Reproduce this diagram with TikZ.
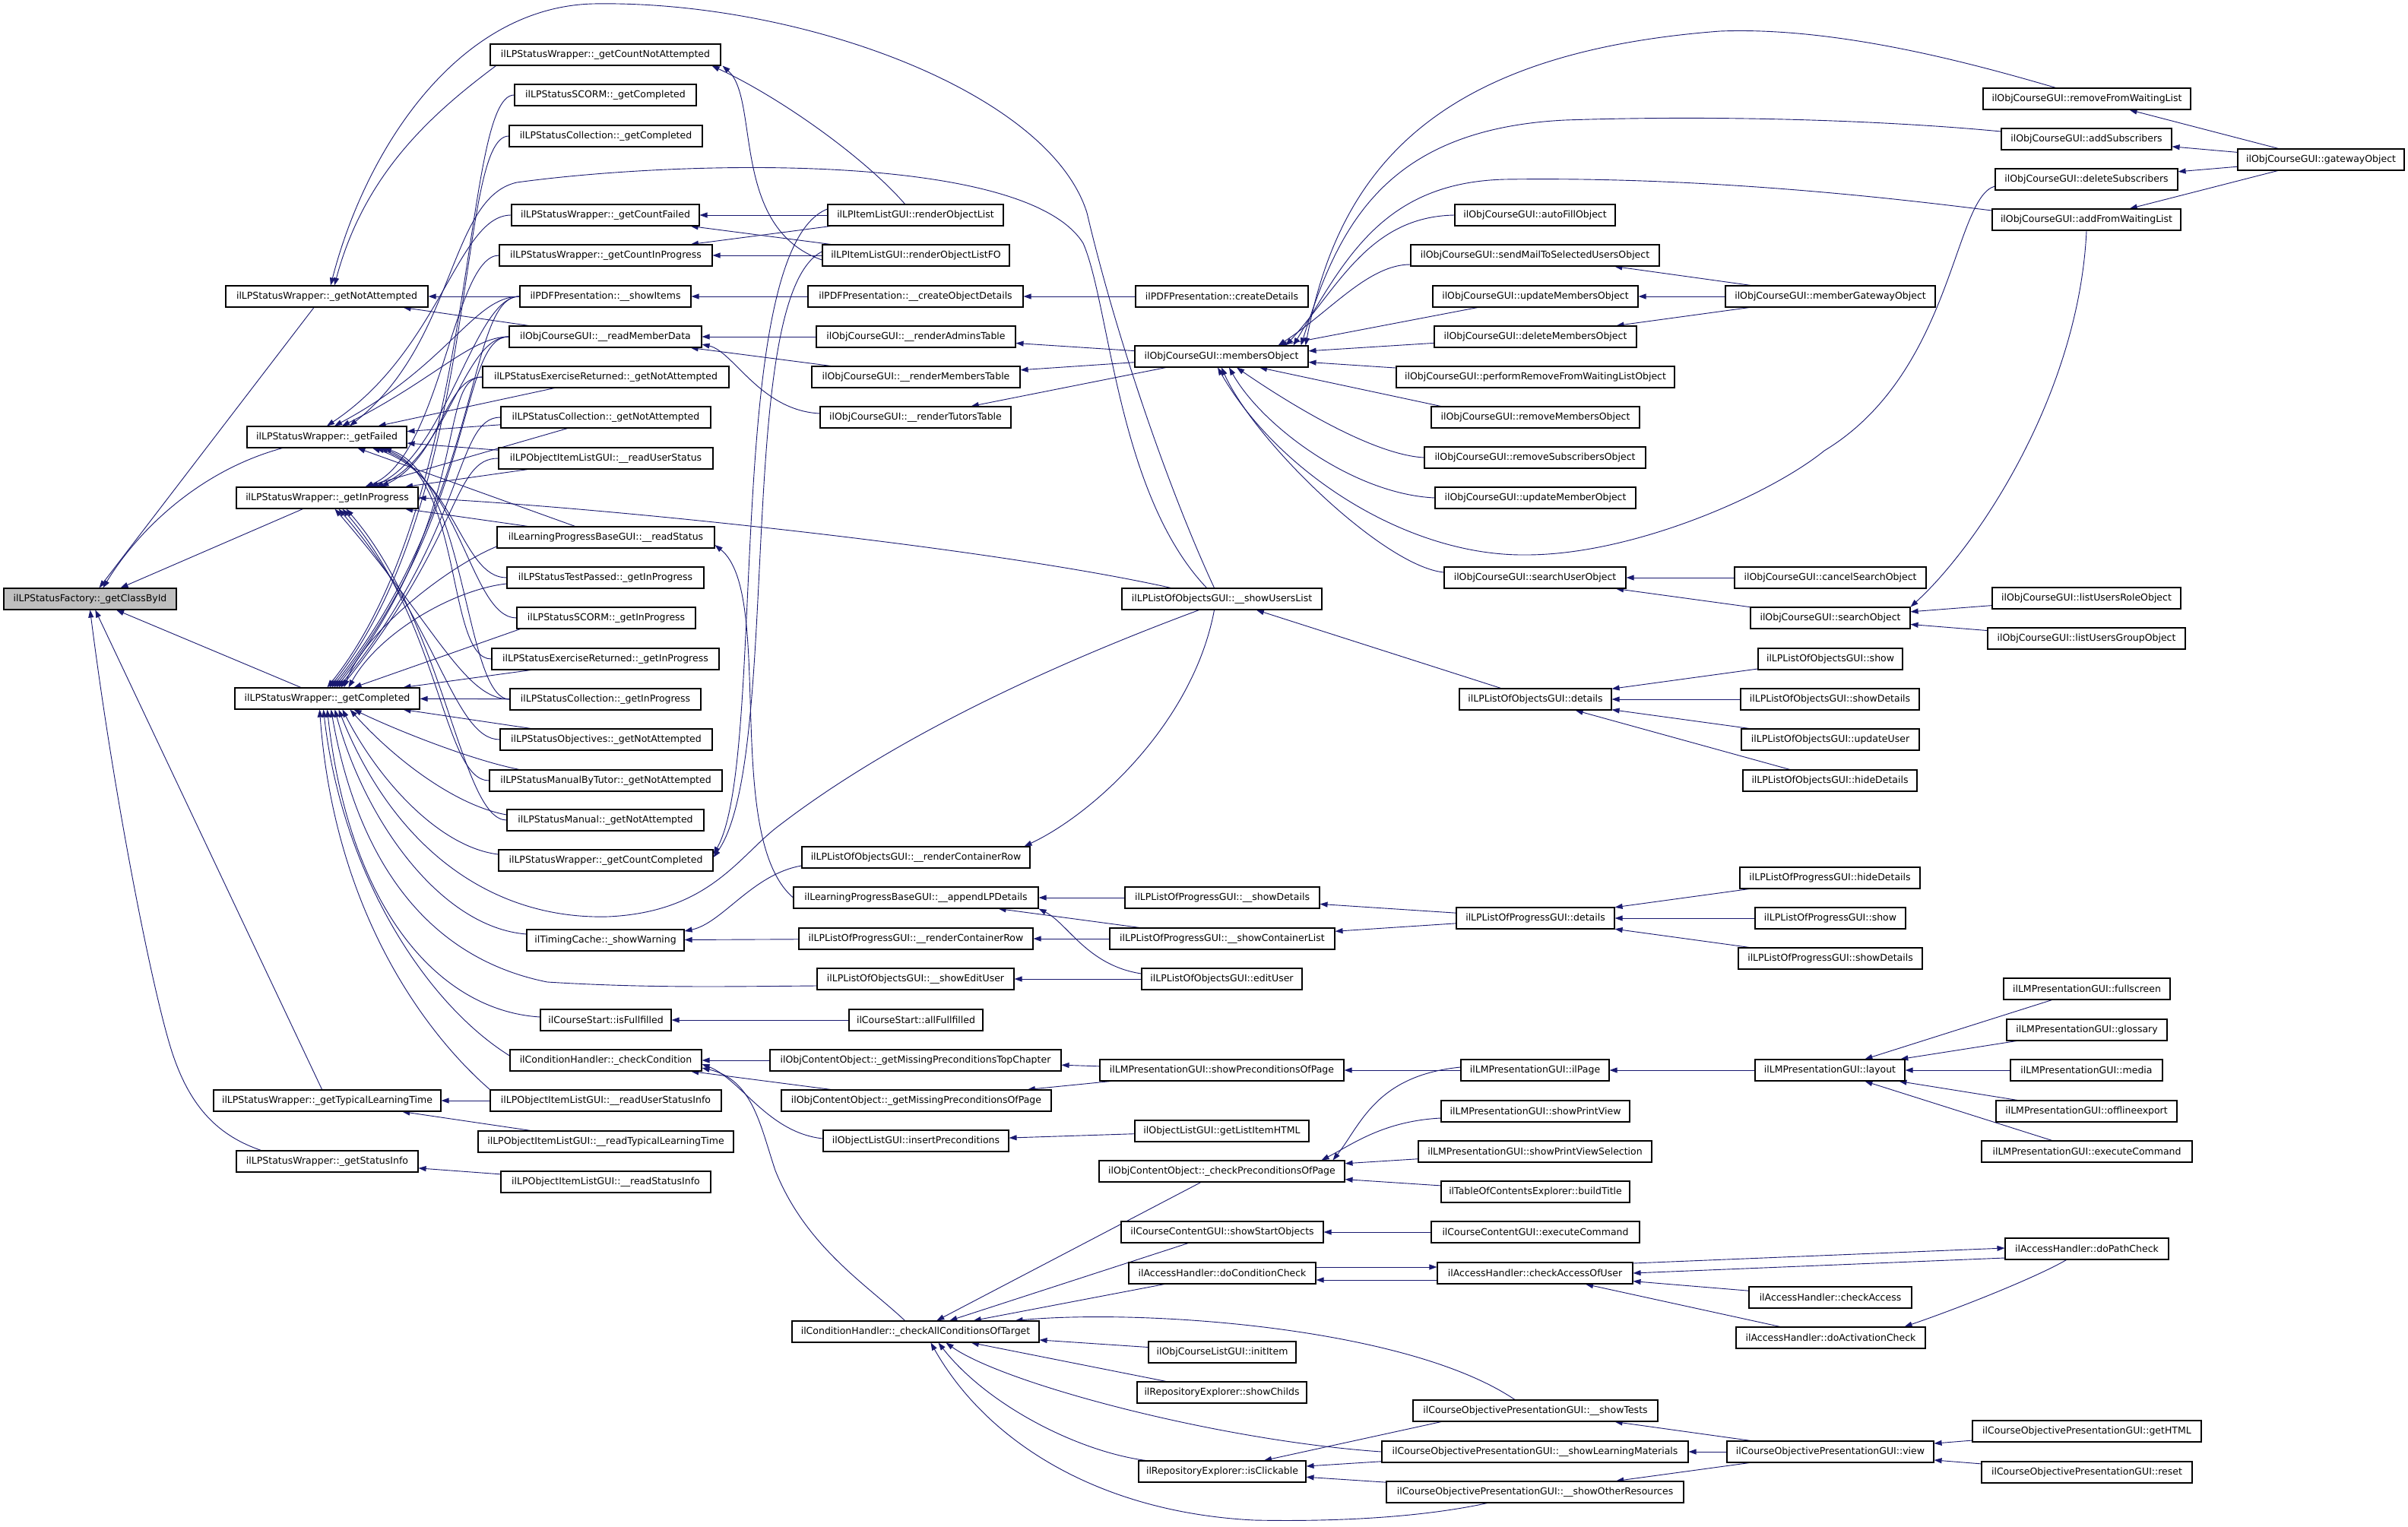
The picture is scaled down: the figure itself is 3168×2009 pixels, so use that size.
\documentclass[tikz,border=0pt]{standalone}
\usepackage{fontspec}
\setmainfont{DejaVu Sans}
\usetikzlibrary{arrows.meta}
\definecolor{edgeblue}{RGB}{25,25,112}
\definecolor{rootgray}{RGB}{191,191,191}
\pgfdeclarelayer{bg}\pgfdeclarelayer{edges}\pgfsetlayers{bg,edges,main}
\tikzset{
 box/.style={draw=black, line width=1.1pt, fill=white, inner sep=0pt, minimum height=28pt, font=\fontsize{12.5}{14}\selectfont, text=black},
 cl/.style={draw=edgeblue, line width=0.9pt, {Triangle[length=10pt,width=7pt]}-},
}
\newcommand\nd[6][]{\node[box,#1,minimum width={#4-#3}] (#2) at ({(#3+#4)/2},#5) {#6};}
\begin{document}
\begin{tikzpicture}[x=1pt,y=-1pt]
\useasboundingbox (0,0) rectangle (3168,2009);
\begin{pgfonlayer}{bg}\fill[white] (0,0) rectangle (3168,2009);\end{pgfonlayer}
% root and column B
\nd[fill=rootgray]{R}{5}{232}{788}{ilLPStatusFactory::\_getClassById}
\nd{gNA}{297}{563}{390}{ilLPStatusWrapper::\_getNotAttempted}
\nd{gF}{325}{535}{575}{ilLPStatusWrapper::\_getFailed}
\nd{gIP}{311}{550}{655}{ilLPStatusWrapper::\_getInProgress}
\nd{gC}{309}{552}{919}{ilLPStatusWrapper::\_getCompleted}
\nd{gTLT}{281}{580}{1448}{ilLPStatusWrapper::\_getTypicalLearningTime}
\nd{gSI}{311}{550}{1528}{ilLPStatusWrapper::\_getStatusInfo}
% column C
\nd{cNA}{645}{948}{72}{ilLPStatusWrapper::\_getCountNotAttempted}
\nd{scC}{677}{916}{125}{ilLPStatusSCORM::\_getCompleted}
\nd{colC}{670}{924}{179}{ilLPStatusCollection::\_getCompleted}
\nd{cF}{673}{920}{283}{ilLPStatusWrapper::\_getCountFailed}
\nd{cIP}{657}{937}{336}{ilLPStatusWrapper::\_getCountInProgress}
\nd{pdfSI}{684}{909}{390}{ilPDFPresentation::\_\_showItems}
\nd{rMD}{670}{923}{443}{ilObjCourseGUI::\_\_readMemberData}
\nd{erNA}{635}{959}{496}{ilLPStatusExerciseReturned::\_getNotAttempted}
\nd{colNA}{659}{935}{549}{ilLPStatusCollection::\_getNotAttempted}
\nd{rUS}{656}{938}{603}{ilLPObjectItemListGUI::\_\_readUserStatus}
\nd{lpRS}{654}{940}{707}{ilLearningProgressBaseGUI::\_\_readStatus}
\nd{tpIP}{667}{926}{760}{ilLPStatusTestPassed::\_getInProgress}
\nd{scIP}{680}{915}{813}{ilLPStatusSCORM::\_getInProgress}
\nd{erIP}{647}{946}{867}{ilLPStatusExerciseReturned::\_getInProgress}
\nd{colIP}{671}{922}{920}{ilLPStatusCollection::\_getInProgress}
\nd{objNA}{658}{937}{973}{ilLPStatusObjectives::\_getNotAttempted}
\nd{mbtNA}{644}{950}{1027}{ilLPStatusManualByTutor::\_getNotAttempted}
\nd{manNA}{667}{926}{1079}{ilLPStatusManual::\_getNotAttempted}
\nd{cC}{656}{938}{1132}{ilLPStatusWrapper::\_getCountCompleted}
\nd{tcSW}{693}{900}{1237}{ilTimingCache::\_showWarning}
\nd{csIF}{711}{883}{1342}{ilCourseStart::isFullfilled}
\nd{chCC}{671}{923}{1395}{ilConditionHandler::\_checkCondition}
\nd{rUSI}{645}{949}{1448}{ilLPObjectItemListGUI::\_\_readUserStatusInfo}
\nd{rTLT}{629}{965}{1502}{ilLPObjectItemListGUI::\_\_readTypicalLearningTime}
\nd{rSI}{659}{935}{1555}{ilLPObjectItemListGUI::\_\_readStatusInfo}
% column D
\nd{rOL}{1089}{1320}{283}{ilLPItemListGUI::renderObjectList}
\nd{rOLFO}{1082}{1328}{336}{ilLPItemListGUI::renderObjectListFO}
\nd{pdfCOD}{1063}{1346}{390}{ilPDFPresentation::\_\_createObjectDetails}
\nd{rAT}{1074}{1336}{443}{ilObjCourseGUI::\_\_renderAdminsTable}
\nd{rMT}{1068}{1342}{496}{ilObjCourseGUI::\_\_renderMembersTable}
\nd{rTT}{1079}{1330}{549}{ilObjCourseGUI::\_\_renderTutorsTable}
\nd{oRCR}{1055}{1355}{1128}{ilLPListOfObjectsGUI::\_\_renderContainerRow}
\nd{aLPD}{1044}{1366}{1181}{ilLearningProgressBaseGUI::\_\_appendLPDetails}
\nd{pRCR}{1051}{1359}{1235}{ilLPListOfProgressGUI::\_\_renderContainerRow}
\nd{sEU}{1075}{1334}{1288}{ilLPListOfObjectsGUI::\_\_showEditUser}
\nd{csAF}{1117}{1293}{1342}{ilCourseStart::allFullfilled}
\nd{mpTC}{1013}{1396}{1395}{ilObjContentObject::\_getMissingPreconditionsTopChapter}
\nd{mpOP}{1028}{1383}{1448}{ilObjContentObject::\_getMissingPreconditionsOfPage}
\nd{oIP}{1083}{1327}{1501}{ilObjectListGUI::insertPreconditions}
\nd{chAC}{1042}{1367}{1752}{ilConditionHandler::\_checkAllConditionsOfTarget}
% column E
\nd{pdfCD}{1494}{1721}{390}{ilPDFPresentation::createDetails}
\nd{mO}{1493}{1721}{469}{ilObjCourseGUI::membersObject}
\nd{sUL}{1476}{1739}{788}{ilLPListOfObjectsGUI::\_\_showUsersList}
\nd{pSD}{1480}{1736}{1181}{ilLPListOfProgressGUI::\_\_showDetails}
\nd{pSCL}{1460}{1756}{1235}{ilLPListOfProgressGUI::\_\_showContainerList}
\nd{oEU}{1502}{1713}{1288}{ilLPListOfObjectsGUI::editUser}
\nd{lmSPP}{1447}{1768}{1408}{ilLMPresentationGUI::showPreconditionsOfPage}
\nd{oLIH}{1493}{1722}{1488}{ilObjectListGUI::getListItemHTML}
\nd{ccPP}{1446}{1769}{1541}{ilObjContentObject::\_checkPreconditionsOfPage}
\nd{ccSSO}{1475}{1741}{1621}{ilCourseContentGUI::showStartObjects}
\nd{ahDCC}{1485}{1731}{1675}{ilAccessHandler::doConditionCheck}
\nd{ocIT}{1511}{1705}{1779}{ilObjCourseListGUI::initItem}
\nd{reSC}{1496}{1719}{1832}{ilRepositoryExplorer::showChilds}
\nd{reIC}{1498}{1718}{1936}{ilRepositoryExplorer::isClickable}
% column F
\nd{aFO}{1914}{2125}{283}{ilObjCourseGUI::autoFillObject}
\nd{sMail}{1856}{2183}{336}{ilObjCourseGUI::sendMailToSelectedUsersObject}
\nd{uMsO}{1885}{2155}{390}{ilObjCourseGUI::updateMembersObject}
\nd{dMsO}{1887}{2153}{443}{ilObjCourseGUI::deleteMembersObject}
\nd{pRWL}{1837}{2203}{496}{ilObjCourseGUI::performRemoveFromWaitingListObject}
\nd{rMsO}{1883}{2157}{549}{ilObjCourseGUI::removeMembersObject}
\nd{rSO}{1874}{2165}{602}{ilObjCourseGUI::removeSubscribersObject}
\nd{uMO}{1888}{2152}{655}{ilObjCourseGUI::updateMemberObject}
\nd{sUO}{1900}{2139}{760}{ilObjCourseGUI::searchUserObject}
\nd{oDet}{1920}{2120}{920}{ilLPListOfObjectsGUI::details}
\nd{pDet}{1916}{2124}{1208}{ilLPListOfProgressGUI::details}
\nd{lmIP}{1922}{2117}{1408}{ilLMPresentationGUI::ilPage}
\nd{lmSPV}{1896}{2144}{1462}{ilLMPresentationGUI::showPrintView}
\nd{lmSPVS}{1866}{2173}{1515}{ilLMPresentationGUI::showPrintViewSelection}
\nd{tocBT}{1896}{2144}{1568}{ilTableOfContentsExplorer::buildTitle}
\nd{ccEC}{1883}{2157}{1621}{ilCourseContentGUI::executeCommand}
\nd{ahCAU}{1891}{2148}{1675}{ilAccessHandler::checkAccessOfUser}
\nd{copST}{1859}{2181}{1856}{ilCourseObjectivePresentationGUI::\_\_showTests}
\nd{copSLM}{1818}{2221}{1910}{ilCourseObjectivePresentationGUI::\_\_showLearningMaterials}
\nd{copSOR}{1824}{2215}{1963}{ilCourseObjectivePresentationGUI::\_\_showOtherResources}
% column G
\nd{mGO}{2270}{2546}{390}{ilObjCourseGUI::memberGatewayObject}
\nd{cSO}{2282}{2534}{760}{ilObjCourseGUI::cancelSearchObject}
\nd{sO}{2303}{2513}{813}{ilObjCourseGUI::searchObject}
\nd{oShow}{2313}{2503}{867}{ilLPListOfObjectsGUI::show}
\nd{oSD}{2290}{2525}{920}{ilLPListOfObjectsGUI::showDetails}
\nd{oUU}{2291}{2525}{973}{ilLPListOfObjectsGUI::updateUser}
\nd{oHD}{2293}{2522}{1027}{ilLPListOfObjectsGUI::hideDetails}
\nd{pHD}{2289}{2526}{1155}{ilLPListOfProgressGUI::hideDetails}
\nd{pShow}{2309}{2507}{1208}{ilLPListOfProgressGUI::show}
\nd{pSDt}{2287}{2529}{1261}{ilLPListOfProgressGUI::showDetails}
\nd{lmL}{2309}{2506}{1408}{ilLMPresentationGUI::layout}
\nd{ahCA}{2301}{2515}{1707}{ilAccessHandler::checkAccess}
\nd{ahDAC}{2284}{2533}{1760}{ilAccessHandler::doActivationCheck}
\nd{copV}{2272}{2544}{1910}{ilCourseObjectivePresentationGUI::view}
% column H
\nd{rFWL}{2609}{2882}{130}{ilObjCourseGUI::removeFromWaitingList}
\nd{aS}{2633}{2857}{183}{ilObjCourseGUI::addSubscribers}
\nd{dS}{2625}{2865}{236}{ilObjCourseGUI::deleteSubscribers}
\nd{aFWL}{2621}{2869}{289}{ilObjCourseGUI::addFromWaitingList}
\nd{lURO}{2621}{2869}{787}{ilObjCourseGUI::listUsersRoleObject}
\nd{lUGO}{2615}{2875}{840}{ilObjCourseGUI::listUsersGroupObject}
\nd{lmFS}{2636}{2855}{1301}{ilLMPresentationGUI::fullscreen}
\nd{lmG}{2640}{2851}{1355}{ilLMPresentationGUI::glossary}
\nd{lmM}{2645}{2845}{1408}{ilLMPresentationGUI::media}
\nd{lmOE}{2626}{2864}{1462}{ilLMPresentationGUI::offlineexport}
\nd{lmEC}{2607}{2884}{1515}{ilLMPresentationGUI::executeCommand}
\nd{ahDPC}{2638}{2853}{1643}{ilAccessHandler::doPathCheck}
\nd{copGH}{2595}{2896}{1883}{ilCourseObjectivePresentationGUI::getHTML}
\nd{copR}{2607}{2884}{1937}{ilCourseObjectivePresentationGUI::reset}
% column I
\nd{gwO}{2944}{3163}{210}{ilObjCourseGUI::gatewayObject}

\begin{pgfonlayer}{edges}
% into root
\draw[cl] ([xshift=12]R.north) -- ([xshift=-17]gNA.south);
\draw[cl] ([xshift=17]R.north) .. controls (180,700) and (260,620) .. ([xshift=47]gF.south west);
\draw[cl] ([xshift=40]R.north) -- ([xshift=-32]gIP.south);
\draw[cl] (R) -- (gC);
\draw[cl] (R) -- (gTLT);
\draw[cl] (R.south) .. controls (150,1050) and (200,1300) .. (225,1380) .. controls (250,1460) and (290,1495) .. ([xshift=33]gSI.north west);
% into getNotAttempted
\draw[cl] ([xshift=10]gNA.north) .. controls +(40,-150) and +(-80,60) .. ([xshift=8]cNA.south west);
\draw[cl] ([xshift=5]gNA.north) .. controls (480,200) and (600,10) .. (780,5) .. controls (1050,0) and (1380,120) .. (1430,280) .. controls (1470,450) and (1540,650) .. ([xshift=-10]sUL.north);
\draw[cl] (gNA) -- (pdfSI);
\draw[cl] (gNA) -- (rMD);
% into getFailed
\draw[cl] ([xshift=0]gF.north) .. controls +(150,-100) and +(-70,0) .. (cF.west);
\draw[cl] ([xshift=10]gF.north) .. controls +(150,-80) and +(-60,0) .. (pdfSI.west);
\draw[cl] ([xshift=20]gF.north) .. controls +(120,-60) and +(-50,0) .. (rMD.west);
\draw[cl] ([xshift=30]gF.north) .. controls (600,450) and (590,260) .. (680,240) .. controls (900,210) and (1350,200) .. (1425,320) .. controls (1460,400) and (1470,650) .. ([xshift=-20]sUL.north);
\draw[cl] (gF) -- (erNA);
\draw[cl] (gF) -- (colNA);
\draw[cl] (gF) -- (rUS);
\draw[cl] (gF) -- (lpRS);
\draw[cl] ([xshift=60]gF.south) .. controls +(110,35) and +(-60,0) .. (tpIP.west);
\draw[cl] ([xshift=65]gF.south) .. controls +(110,35) and +(-60,0) .. (scIP.west);
\draw[cl] ([xshift=70]gF.south) .. controls +(110,35) and +(-60,0) .. (erIP.west);
\draw[cl] ([xshift=75]gF.south) .. controls +(110,35) and +(-60,0) .. (colIP.west);
% into getInProgress
\draw[cl] ([xshift=50]gIP.north) .. controls +(100,-40) and +(-60,0) .. (cIP.west);
\draw[cl] ([xshift=57]gIP.north) .. controls +(100,-40) and +(-60,0) .. (pdfSI.west);
\draw[cl] ([xshift=64]gIP.north) .. controls +(95,-40) and +(-60,0) .. (rMD.west);
\draw[cl] ([xshift=71]gIP.north) .. controls +(80,-40) and +(-50,0) .. (erNA.west);
\draw[cl] (gIP) -- (colNA);
\draw[cl] (gIP) -- (rUS);
\draw[cl] (gIP.east) .. controls (800,668) and (1300,720) .. ([xshift=-67]sUL.north);
\draw[cl] (gIP) -- (lpRS);
\draw[cl] ([xshift=10]gIP.south) .. controls +(130,150) and +(-60,0) .. (colIP.west);
\draw[cl] ([xshift=15]gIP.south) .. controls +(130,150) and +(-60,0) .. (objNA.west);
\draw[cl] ([xshift=20]gIP.south) .. controls +(130,150) and +(-60,0) .. (mbtNA.west);
\draw[cl] ([xshift=25]gIP.south) .. controls +(130,150) and +(-60,0) .. (manNA.west);
% into getCompleted
\draw[cl] ([xshift=0]gC.north) .. controls +(200,-250) and +(-70,0) .. (scC.west);
\draw[cl] ([xshift=3]gC.north) .. controls +(200,-250) and +(-70,0) .. (colC.west);
\draw[cl] ([xshift=6]gC.north) .. controls +(200,-250) and +(-70,0) .. (pdfSI.west);
\draw[cl] ([xshift=9]gC.north) .. controls +(190,-240) and +(-65,0) .. (rMD.west);
\draw[cl] ([xshift=12]gC.north) .. controls +(180,-230) and +(-60,0) .. (erNA.west);
\draw[cl] ([xshift=15]gC.north) .. controls +(170,-210) and +(-60,0) .. (colNA.west);
\draw[cl] ([xshift=18]gC.north) .. controls +(160,-200) and +(-60,0) .. (rUS.west);
\draw[cl] ([xshift=22]gC.north) .. controls (480,830) and (590,745) .. ([yshift=-12]lpRS.west);
\draw[cl] ([xshift=28]gC.north) .. controls (500,830) and (600,775) .. ([yshift=-8]tpIP.west);
\draw[cl] ([xshift=35]gC.north) -- ([xshift=5]scIP.south west);
\draw[cl] ([xshift=-22]gC.north east) -- ([xshift=52]erIP.south west);
\draw[cl] (gC) -- (colIP);
\draw[cl] ([xshift=-22]gC.south east) -- ([xshift=41]objNA.north west);
\draw[cl] ([xshift=35]gC.south) .. controls (520,960) and (620,1000) .. ([xshift=40]mbtNA.north west);
\draw[cl] ([xshift=30]gC.south) .. controls (520,1000) and (600,1060) .. ([yshift=7]manNA.west);
\draw[cl] ([xshift=20]gC.south) .. controls (500,1030) and (580,1115) .. ([yshift=8]cC.west);
\draw[cl] ([xshift=10]gC.south) .. controls (480,1080) and (580,1220) .. ([yshift=8]tcSW.west);
\draw[cl] ([xshift=5]gC.south) .. controls (470,1130) and (560,1260) .. (720,1292) .. controls (850,1300) and (950,1298) .. ([yshift=-9]sEU.west);
\draw[cl] (gC.south) .. controls (460,1200) and (580,1330) .. ([yshift=4]csIF.west);
\draw[cl] ([xshift=-5]gC.south) .. controls (450,1150) and (560,1320) .. ([yshift=6]chCC.west);
\draw[cl] ([xshift=-10]gC.south) .. controls (440,1200) and (560,1360) .. (rUSI.north west);
\draw[cl] ([xshift=15]gC.south) .. controls (520,1120) and (650,1210) .. (800,1206) .. controls (930,1200) and (970,1130) .. (1020,1090) .. controls (1200,950) and (1450,850) .. ([xshift=-30]sUL.south);
% column C callees
\draw[cl] ([xshift=-12]cNA.south east) .. controls (1030,130) and (1140,210) .. ([xshift=-14]rOL.north);
\draw[cl] ([xshift=2]cNA.south east) .. controls (1000,130) and (960,300) .. ([yshift=-6]rOLFO.west);
\draw[cl] (cF) -- (rOL);
\draw[cl] (cF) -- (rOLFO);
\draw[cl] (cIP) -- (rOL);
\draw[cl] (cIP) -- (rOLFO);
\draw[cl] ([yshift=8]cC.east) .. controls (1010,1000) and (950,330) .. ([yshift=8]rOL.west);
\draw[cl] ([yshift=4]cC.east) .. controls (1030,1000) and (965,390) .. ([yshift=5]rOLFO.west);
\draw[cl] (pdfSI) -- (pdfCOD);
\draw[cl] (rMD) -- (rAT);
\draw[cl] (rMD) -- (rMT);
\draw[cl] ([yshift=-10]rMD.east) .. controls (965,462) and (1000,540) .. ([yshift=5]rTT.west);
\draw[cl] ([yshift=-10]lpRS.east) .. controls (1020,780) and (950,1100) .. (aLPD.west);
\draw[cl] ([yshift=12]tcSW.east) .. controls (950,1215) and (990,1150) .. ([yshift=-11]oRCR.west);
\draw[cl] (tcSW) -- (pRCR);
\draw[cl] (csIF) -- (csAF);
\draw[cl] (chCC) -- (mpTC);
\draw[cl] (chCC) -- (mpOP);
\draw[cl] ([yshift=-5]chCC.east) .. controls (975,1420) and (1010,1490) .. ([yshift=3]oIP.west);
\draw[cl] ([yshift=-10]chCC.east) .. controls (990,1420) and (1000,1480) .. (1020,1540) .. controls (1060,1640) and (1140,1690) .. ([xshift=-14]chAC.north);
\draw[cl] (gTLT) -- (rUSI);
\draw[cl] (gTLT) -- (rTLT);
\draw[cl] (gSI) -- (rSI);
% column D callees
\draw[cl] (pdfCOD) -- (pdfCD);
\draw[cl] (rAT) -- (mO);
\draw[cl] (rMT) -- (mO);
\draw[cl] (rTT) -- (mO);
\draw[cl] ([xshift=-8]oRCR.north east) .. controls (1440,1070) and (1570,950) .. ([xshift=-10]sUL.south);
\draw[cl] (aLPD) -- (pSD);
\draw[cl] (aLPD) -- (pSCL);
\draw[cl] (aLPD.south east) .. controls (1405,1215) and (1430,1270) .. ([yshift=7]oEU.west);
\draw[cl] (pRCR) -- (pSCL);
\draw[cl] (sEU) -- (oEU);
\draw[cl] (mpTC) -- (lmSPP);
\draw[cl] (mpOP) -- (lmSPP);
\draw[cl] (oIP) -- (oLIH);
\draw[cl] (chAC) -- (ccPP);
\draw[cl] (chAC) -- (ccSSO);
\draw[cl] (chAC) -- (ahDCC);
\draw[cl] (chAC) -- (ocIT);
\draw[cl] (chAC) -- (reSC);
\draw[cl] ([xshift=-32]chAC.north east) .. controls (1500,1722) and (1850,1745) .. ([xshift=-27]copST.north);
\draw[cl] ([xshift=40]chAC.south) .. controls (1320,1820) and (1600,1895) .. (copSLM.west);
\draw[cl] ([xshift=30]chAC.south) .. controls (1300,1850) and (1420,1910) .. ([xshift=10]reIC.north west);
\draw[cl] ([xshift=20]chAC.south) .. controls (1300,1900) and (1450,1990) .. (1650,2000) .. controls (1800,2003) and (1900,1990) .. ([xshift=-63]copSOR.south);
% membersObject callers
\draw[cl] ([xshift=-4]mO.north east) .. controls (1760,230) and (1880,70) .. (2263,41) .. controls (2420,35) and (2600,85) .. ([xshift=-41]rFWL.north);
\draw[cl] ([xshift=-10]mO.north east) .. controls (1760,300) and (1820,170) .. (2059,158) .. controls (2300,150) and (2520,162) .. ([yshift=10]aS.west);
\draw[cl] ([xshift=-20]mO.north east) .. controls (1770,340) and (1820,240) .. (1980,236) .. controls (2250,232) and (2500,262) .. ([yshift=12]aFWL.west);
\draw[cl] ([xshift=-30]mO.north east) .. controls (1760,380) and (1800,285) .. (aFO.west);
\draw[cl] ([xshift=-40]mO.north east) .. controls (1750,410) and (1800,348) .. ([yshift=-12]sMail.west);
\draw[cl] (mO) -- (uMsO);
\draw[cl] (mO) -- (dMsO);
\draw[cl] (mO) -- (pRWL);
\draw[cl] ([xshift=50]mO.south) -- ([xshift=13]rMsO.north west);
\draw[cl] ([xshift=20]mO.south) .. controls (1680,520) and (1800,598) .. (rSO.west);
\draw[cl] ([xshift=10]mO.south) .. controls (1660,560) and (1780,650) .. (uMO.west);
\draw[cl] (mO.south) .. controls (1650,580) and (1820,745) .. ([yshift=7]sUO.west);
\draw[cl] ([xshift=-5]mO.south) .. controls (1680,620) and (1850,732) .. (2008,730) .. controls (2150,730) and (2330,650) .. (2400,593) .. controls (2570,490) and (2570,260) .. ([yshift=-9]dS.west);
% column E callees
\draw[cl] (sUL) -- (oDet);
\draw[cl] (pSD) -- (pDet);
\draw[cl] (pSCL) -- (pDet);
\draw[cl] (lmSPP) -- (lmIP);
\draw[cl] ([xshift=-16]ccPP.north east) .. controls (1790,1480) and (1810,1415) .. ([yshift=4]lmIP.west);
\draw[cl] ([xshift=-31]ccPP.north east) .. controls (1780,1505) and (1820,1475) .. ([yshift=-9]lmSPV.west);
\draw[cl] (ccPP) -- (lmSPVS);
\draw[cl] (ccPP) -- (tocBT);
\draw[cl] (ccSSO) -- (ccEC);
\draw[cl] ([yshift=8]ahCAU.west) -- ([yshift=8]ahDCC.east);
\draw[cl] ([yshift=-9]ahDCC.east) -- ([yshift=-9]ahCAU.west);
\draw[cl] ([xshift=55]reIC.north) -- ([xshift=-124]copST.south);
\draw[cl] (reIC) -- (copSLM);
\draw[cl] (reIC) -- (copSOR);
% column F callees
\draw[cl] (sMail) -- (mGO);
\draw[cl] (uMsO) -- (mGO);
\draw[cl] (dMsO) -- (mGO);
\draw[cl] (sUO) -- (cSO);
\draw[cl] (sUO) -- (sO);
\draw[cl] (oDet) -- (oShow);
\draw[cl] (oDet) -- (oSD);
\draw[cl] (oDet) -- (oUU);
\draw[cl] (oDet) -- (oHD);
\draw[cl] (pDet) -- (pHD);
\draw[cl] (pDet) -- (pShow);
\draw[cl] (pDet) -- (pSDt);
\draw[cl] (lmIP) -- (lmL);
\draw[cl] (ahCAU.east) -- ([yshift=-12]ahDPC.west);
\draw[cl] ([yshift=1]ahDPC.west) -- ([yshift=13]ahCAU.east);
\draw[cl] (ahCAU) -- (ahCA);
\draw[cl] (ahCAU) -- (ahDAC);
\draw[cl] ([xshift=-28]ahDAC.north east) .. controls (2580,1720) and (2680,1680) .. ([xshift=-27]ahDPC.south);
\draw[cl] (copST) -- (copV);
\draw[cl] (copSLM) -- (copV);
\draw[cl] (copSOR) -- (copV);
% column G callees
\draw[cl] (sO) -- (lURO);
\draw[cl] (sO) -- (lUGO);
\draw[cl] (sO.north east) .. controls (2600,720) and (2735,520) .. (aFWL.south);
\draw[cl] (lmL) -- (lmFS);
\draw[cl] (lmL) -- (lmG);
\draw[cl] (lmL) -- (lmM);
\draw[cl] (lmL) -- (lmOE);
\draw[cl] (lmL) -- (lmEC);
\draw[cl] (copV) -- (copGH);
\draw[cl] (copV) -- (copR);
% column H callees
\draw[cl] (rFWL) -- (gwO);
\draw[cl] (aS) -- (gwO);
\draw[cl] (dS) -- (gwO);
\draw[cl] (aFWL) -- (gwO);
\end{pgfonlayer}
\end{tikzpicture}
\end{document}
